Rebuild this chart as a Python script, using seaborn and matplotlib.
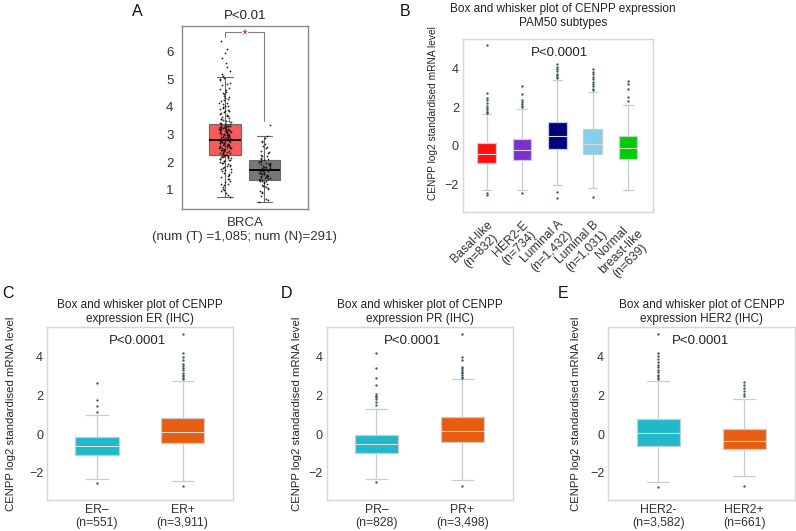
import numpy as np
import pandas as pd
import seaborn as sns
import matplotlib.pyplot as plt

sns.set_style('white')
plt.rcParams['font.family'] = ['Liberation Sans', 'DejaVu Sans']
plt.rcParams['text.color'] = '#222222'

W, H = 796, 531

# ---- panel A (GEPIA, tumour vs normal) ----
a_groups = ['Tumor', 'Normal']
a_colors = ['#fa5a5a', '#777777']
# whisker low, q1, median, q3, whisker high
a_stats = [[0.73, 2.27, 2.80, 3.39, 5.07],
           [0.55, 1.37, 1.72, 2.08, 2.96]]
a_tumor_points = [0.73, 0.81, 0.88, 0.97, 1.0, 1.04, 1.12, 1.17, 1.2, 1.23, 1.29, 1.34, 1.38,
                  1.41, 1.47, 1.52, 1.55, 1.58, 1.61, 1.66, 1.68, 1.71, 1.75, 1.77, 1.79,
                  1.83, 1.86, 1.88, 1.9, 1.94, 1.97, 1.99, 2.01, 2.03, 2.06, 2.07, 2.09,
                  2.11, 2.13, 2.14, 2.16, 2.18, 2.19, 2.2, 2.22, 2.23, 2.24, 2.25, 2.26,
                  2.28, 2.29, 2.31, 2.33, 2.34, 2.35, 2.37, 2.38, 2.4, 2.41, 2.42, 2.43,
                  2.45, 2.46, 2.48, 2.49, 2.5, 2.51, 2.52, 2.53, 2.55, 2.56, 2.57, 2.58,
                  2.59, 2.6, 2.61, 2.62, 2.63, 2.64, 2.65, 2.66, 2.67, 2.68, 2.69, 2.7,
                  2.71, 2.72, 2.73, 2.74, 2.75, 2.76, 2.77, 2.78, 2.79, 2.8, 2.81, 2.82,
                  2.83, 2.84, 2.85, 2.86, 2.87, 2.88, 2.89, 2.9, 2.91, 2.92, 2.93, 2.94,
                  2.95, 2.96, 2.97, 2.98, 2.99, 3.0, 3.01, 3.02, 3.03, 3.04, 3.05, 3.06,
                  3.07, 3.08, 3.09, 3.1, 3.11, 3.12, 3.13, 3.14, 3.15, 3.16, 3.17, 3.18,
                  3.19, 3.2, 3.21, 3.22, 3.23, 3.24, 3.25, 3.26, 3.27, 3.28, 3.29, 3.3,
                  3.31, 3.32, 3.33, 3.34, 3.36, 3.37, 3.38, 3.41, 3.43, 3.45, 3.48, 3.5,
                  3.52, 3.55, 3.58, 3.6, 3.64, 3.66, 3.68, 3.72, 3.74, 3.77, 3.81, 3.84,
                  3.86, 3.9, 3.93, 3.95, 4.0, 4.03, 4.05, 4.1, 4.13, 4.16, 4.22, 4.25,
                  4.28, 4.34, 4.37, 4.4, 4.47, 4.5, 4.54, 4.62, 4.66, 4.7, 4.78, 4.83,
                  4.87, 4.96, 5.0, 5.05, 5.12, 5.2, 5.31, 5.45, 5.6, 5.78, 5.95, 6.1, 6.38]
a_normal_points = [0.55, 0.62, 0.68, 0.79, 0.88, 0.92, 0.96, 1.03, 1.06, 1.09, 1.14, 1.16,
                   1.19, 1.23, 1.25, 1.27, 1.31, 1.33, 1.34, 1.36, 1.37, 1.38, 1.41, 1.42,
                   1.44, 1.46, 1.47, 1.49, 1.51, 1.52, 1.54, 1.56, 1.57, 1.59, 1.6, 1.62,
                   1.63, 1.65, 1.67, 1.68, 1.7, 1.71, 1.72, 1.74, 1.75, 1.77, 1.79, 1.8,
                   1.83, 1.84, 1.86, 1.88, 1.89, 1.92, 1.93, 1.95, 1.97, 1.98, 2.01, 2.02,
                   2.04, 2.06, 2.07, 2.11, 2.13, 2.16, 2.21, 2.24, 2.27, 2.34, 2.38, 2.42,
                   2.5, 2.55, 2.58, 2.67, 2.72, 2.78, 2.88, 2.96, 3.35]
a_bracket_top = 6.70
a_bracket_left = 6.54
a_bracket_right = 3.49

# ---- panel B (PAM50 subtypes) ----
b_labels = ['Basal-like\n(n=832)', 'HER2-E\n(n=734)', 'Luminal A\n(n=1,432)',
            'Luminal B\n(n=1,031)', 'Normal\nbreast-like\n(n=639)']
b_colors = ['#ff1010', '#7d2fd0', '#000080', '#87ceeb', '#00cc00']
b_stats = [[-2.28, -0.86, -0.40, 0.17, 1.64],
           [-2.28, -0.74, -0.22, 0.34, 1.93],
           [-2.02, -0.17, 0.52, 1.26, 3.40],
           [-2.16, -0.43, 0.12, 0.86, 2.81],
           [-2.29, -0.66, -0.12, 0.52, 2.12]]
b_outliers = [[1.72, 1.78, 1.85, 1.95, 2.05, 2.2, 2.38, 2.48, 2.75, 5.22, -2.45, -2.52],
              [2.0, 2.08, 2.15, 2.3, 2.38, 2.67, 3.1, -2.45],
              [3.5, 3.56, 3.65, 3.75, 3.88, 4.0, 4.1, 4.22, -2.36, -2.67],
              [2.88, 2.95, 3.1, 3.2, 3.3, 3.45, 3.55, 3.7, 3.85, 3.97, -2.64],
              [2.33, 2.55, 2.97, 3.19, 3.36]]

# ---- panels C-E (IHC status) ----
ihc_colors = ['#20b8ca', '#e85d0f']

c_labels = ['ER–\n(n=551)', 'ER+\n(n=3,911)']
c_stats = [[-2.34, -1.05, -0.62, -0.17, 1.0],
           [-2.40, -0.48, 0.09, 0.81, 2.76]]
c_outliers = [[1.17, 1.45, 1.76, 2.66, -2.52],
              [2.85, 2.9, 2.98, 3.05, 3.15, 3.3, 3.4, 3.5, 3.6, 3.83, 4.0, 4.17, 5.17, -2.69]]

d_labels = ['PR–\n(n=828)', 'PR+\n(n=3,498)']
d_stats = [[-2.32, -0.98, -0.51, -0.03, 1.32],
           [-2.38, -0.43, 0.17, 0.89, 2.83]]
d_outliers = [[1.51, 1.68, 1.8, 1.9, 1.97, 2.1, 2.54, 2.88, 3.43, 4.17, -2.49],
              [2.9, 2.97, 3.05, 3.14, 3.22, 3.31, 3.4, 3.48, 3.83, 4.0, 5.16, -2.66]]

e_labels = ['HER2-\n(n=3,582)', 'HER2+\n(n=661)']
e_stats = [[-2.48, -0.60, 0.05, 0.76, 2.74],
           [-2.16, -0.78, -0.34, 0.28, 1.84]]
e_outliers = [[2.84, 2.9, 3.0, 3.07, 3.2, 3.33, 3.45, 3.59, 3.75, 3.88, 4.05, 4.19, 5.19, -2.71],
              [1.98, 2.05, 2.21, 2.38, 2.55, 2.72, -2.67]]

ylabel_txt = 'CENPP log2 standardised mRNA level'


def px_axes(fig, left, top, right, bottom):
    return fig.add_axes([left / W, 1 - bottom / H, (right - left) / W, (bottom - top) / H])


def long_df(labels, values):
    rows = [(lab, v) for lab, vals in zip(labels, values) for v in vals]
    return pd.DataFrame(rows, columns=['group', 'value'])


def expr_panel(ax, labels, stats, outliers, colors, width, xlim, title, title_pad, p_x,
               ylab_size=8.2):
    sns.boxplot(data=long_df(labels, stats), x='group', y='value', hue='group',
                order=labels, hue_order=labels, palette=colors, saturation=1,
                width=width, whis=(0, 100), showfliers=False, linecolor='#c4ced2',
                linewidth=0.9, medianprops={'color': '#dadada', 'linewidth': 0.8},
                legend=False, ax=ax)
    sns.stripplot(data=long_df(labels, outliers), x='group', y='value', order=labels,
                  jitter=False, color='#3b5862', size=1.7, linewidth=0, ax=ax)
    ax.set_xlim(*xlim)
    ax.set_ylim(-3.4, 5.52)
    ax.set_yticks([-2, 0, 2, 4])
    ax.set_xlabel('')
    ax.set_ylabel(ylabel_txt, fontsize=ylab_size)
    ax.set_title(title, fontsize=8.5, pad=title_pad)
    ax.text(p_x, 4.8, 'P<0.0001', ha='center', va='center', fontsize=9.5)
    for s in ax.spines.values():
        s.set_color('#d6d6d6')
        s.set_linewidth(1)
    ax.tick_params(axis='y', length=0, labelsize=9, labelcolor='#333333', pad=3)
    ax.tick_params(axis='x', length=2, color='#d0d0d0', labelsize=8.8, labelcolor='#333333', pad=1)
    for lbl in ax.get_xticklabels():
        lbl.set_linespacing(1.05)


fig = plt.figure(figsize=(W / 100, H / 100), dpi=100)

# panel A
ax_a = px_axes(fig, 181.7, 25.7, 308.3, 209)
sns.boxplot(data=long_df(a_groups, a_stats), x='group', y='value', hue='group',
            order=a_groups, hue_order=a_groups, palette=a_colors, saturation=1,
            width=0.81, whis=(0, 100), showfliers=False, linecolor='#6a6a6a',
            linewidth=0.8, medianprops={'color': 'black', 'linewidth': 1.4},
            legend=False, ax=ax_a)
sns.stripplot(data=long_df(a_groups, [a_tumor_points, a_normal_points]), x='group',
              y='value', order=a_groups, jitter=0.15, size=1.3, color='#111111',
              linewidth=0, alpha=0.9, ax=ax_a)
ax_a.plot([0, 0, 0.41], [a_bracket_left, a_bracket_top, a_bracket_top], color='#808080', lw=0.8)
ax_a.plot([0.59, 1, 1], [a_bracket_top, a_bracket_top, a_bracket_right], color='#808080', lw=0.8)
ax_a.plot([0.5], [a_bracket_top], marker='*', color='#ff3030', markersize=4.5, markeredgewidth=0)
ax_a.set_xlim(-1.107, 2.115)
ax_a.set_ylim(0.31, 6.94)
ax_a.set_yticks([1, 2, 3, 4, 5, 6])
ax_a.set_xticks([0.5])
ax_a.set_xticklabels(['BRCA\n(num (T) =1,085; num (N)=291)'])
ax_a.set_xlabel('')
ax_a.set_ylabel('')
ax_a.set_title('P<0.01', fontsize=9.5, pad=5)
for s in ax_a.spines.values():
    s.set_color('#8a8a8a')
    s.set_linewidth(1)
ax_a.tick_params(axis='both', length=3, color='#8a8a8a', labelsize=9.5, labelcolor='#333333', pad=3)

# panel B
ax_b = px_axes(fig, 463, 39.3, 653, 211.7)
expr_panel(ax_b, b_labels, b_stats, b_outliers, b_colors, 0.53, (-0.67, 4.71),
           'Box and whisker plot of CENPP expression\nPAM50 subtypes', 9.5, 2.07,
           ylab_size=7.3)
ax_b.yaxis.set_label_coords(-0.13, 0.575)
ax_b.title.set_x(0.525)
ax_b.tick_params(axis='x', pad=3)
for lbl in ax_b.get_xticklabels():
    lbl.set_rotation(45)
    lbl.set_ha('right')
    lbl.set_va('top')
    lbl.set_rotation_mode('anchor')
    lbl.set_multialignment('center')

# panels C, D, E
ax_c = px_axes(fig, 47.3, 327.3, 233, 500)
expr_panel(ax_c, c_labels, c_stats, c_outliers, ihc_colors, 0.51, (-0.58, 1.59),
           'Box and whisker plot of CENPP\nexpression ER (IHC)', 4, 0.47)
ax_c.yaxis.set_label_coords(-0.166, 0.5)

ax_d = px_axes(fig, 326.7, 327.3, 513, 500)
expr_panel(ax_d, d_labels, d_stats, d_outliers, ihc_colors, 0.5, (-0.58, 1.59),
           'Box and whisker plot of CENPP\nexpression PR (IHC)', 4, 0.42)
ax_d.yaxis.set_label_coords(-0.135, 0.5)

ax_e = px_axes(fig, 608.3, 327.3, 795, 500)
expr_panel(ax_e, e_labels, e_stats, e_outliers, ihc_colors, 0.5, (-0.58, 1.59),
           'Box and whisker plot of CENPP\nexpression HER2 (IHC)', 4, 0.49)
ax_e.yaxis.set_label_coords(-0.144, 0.5)

# panel letters
for letter, x, y in [('A', 137, 12), ('B', 405, 12), ('C', 8, 293), ('D', 287, 293), ('E', 563, 293)]:
    fig.text(x / W, 1 - y / H, letter, fontsize=11.5, ha='center', va='center', color='#111111')

fig.savefig('out.png', dpi=100)
